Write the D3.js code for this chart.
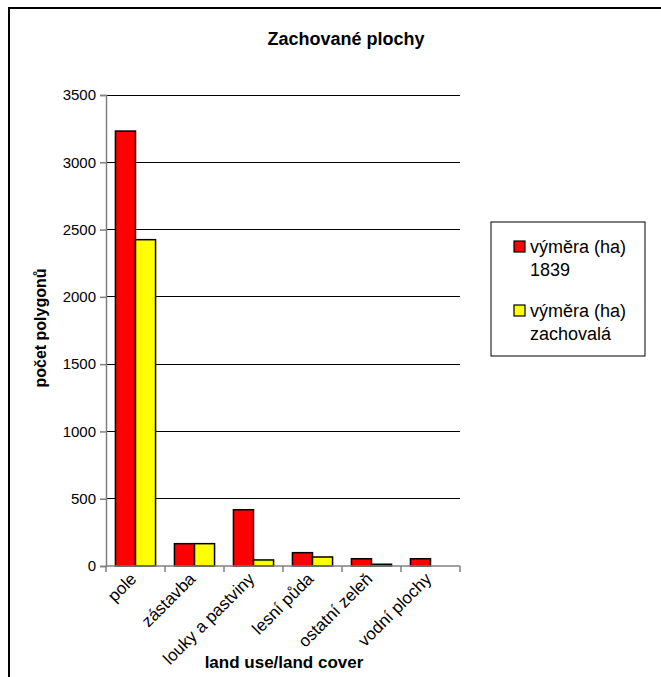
<!DOCTYPE html>
<html>
<head>
<meta charset="utf-8">
<title>Zachované plochy</title>
<script src="https://cdnjs.cloudflare.com/ajax/libs/d3/7.8.5/d3.min.js"></script>
<style>
  body { margin: 0; background: #fff; }
  svg { display: block; font-family: "Liberation Sans", Arial, sans-serif; }
</style>
</head>
<body>
<div id="chart"></div>
<script>
// data
var categories = ["pole", "zástavba", "louky a pastviny", "lesní půda", "ostatní zeleň", "vodní plochy"];
var seriesNames = ["výměra (ha) 1839", "výměra (ha) zachovalá"];
var values1839 = [3232, 166, 418, 99, 54, 54];
var valuesKept = [2425, 166, 45, 67, 13, 0];
var yTicks = [0, 500, 1000, 1500, 2000, 2500, 3000, 3500];
var colors = ["#ff0000", "#ffff00"];

var W = 661, H = 677;
var plot = {left: 106, right: 460, top: 95, bottom: 566};

var svg = d3.select("#chart").append("svg")
  .attr("width", W).attr("height", H);

// outer frame (only top and left visible)
svg.append("path")
  .attr("d", "M9,677 V8 H661")
  .attr("fill", "none").attr("stroke", "#000").attr("stroke-width", 2);

var x0 = d3.scaleBand()
  .domain(categories)
  .range([plot.left, plot.right])
  .paddingInner(0.32)
  .paddingOuter(0.16);

var x1 = d3.scaleBand()
  .domain([0, 1])
  .range([0, x0.bandwidth()]);

var y = d3.scaleLinear()
  .domain([0, 3500])
  .range([plot.bottom, plot.top]);

// gridlines
svg.append("g")
  .selectAll("line")
  .data(yTicks.slice(1))
  .enter().append("line")
  .attr("x1", plot.left).attr("x2", plot.right)
  .attr("y1", function(d) { return y(d); })
  .attr("y2", function(d) { return y(d); })
  .attr("stroke", "#000").attr("stroke-width", 1)
  .attr("shape-rendering", "crispEdges");

// bars
var rows = categories.map(function(c, i) { return {cat: c, vals: [values1839[i], valuesKept[i]]}; });
svg.append("g")
  .selectAll("g")
  .data(rows)
  .enter().append("g")
  .attr("transform", function(d) { return "translate(" + x0(d.cat) + ",0)"; })
  .selectAll("rect")
  .data(function(d) { return d.vals.map(function(v, k) { return {k: k, v: v}; }); })
  .enter().append("rect")
  .attr("x", function(d) { return x1(d.k); })
  .attr("y", function(d) { return y(d.v); })
  .attr("width", x1.bandwidth())
  .attr("height", function(d) { return plot.bottom - y(d.v); })
  .attr("fill", function(d) { return colors[d.k]; })
  .attr("stroke", "#000")
  .attr("stroke-width", 1.5);

// y axis
var yAxis = svg.append("g")
  .attr("transform", "translate(" + plot.left + ",0)")
  .call(d3.axisLeft(y).tickValues(yTicks).tickSize(6).tickPadding(4).tickFormat(d3.format("d")));
yAxis.selectAll("path, line").attr("stroke", "#808080").attr("stroke-width", 1.5);
yAxis.selectAll("text").attr("font-size", 15).attr("fill", "#000")
  .style("font-family", "Liberation Sans, Arial, sans-serif");

// x axis
var xTickPos = d3.range(categories.length + 1).map(function(i) { return plot.left + i * x0.step(); });
svg.append("line")
  .attr("x1", plot.left).attr("x2", plot.right)
  .attr("y1", plot.bottom).attr("y2", plot.bottom)
  .attr("stroke", "#808080").attr("stroke-width", 1.5);
svg.append("g").selectAll("line")
  .data(xTickPos)
  .enter().append("line")
  .attr("x1", function(d) { return d; }).attr("x2", function(d) { return d; })
  .attr("y1", plot.bottom).attr("y2", plot.bottom + 6)
  .attr("stroke", "#808080").attr("stroke-width", 1.5);

svg.append("g").selectAll("text")
  .data(categories)
  .enter().append("text")
  .attr("transform", function(d) {
    return "translate(" + (x0(d) + x0.bandwidth() / 2 + 2) + "," + (plot.bottom + 14) + ") rotate(-45)";
  })
  .attr("text-anchor", "end")
  .attr("font-size", 17)
  .text(function(d) { return d; });

// titles
svg.append("text")
  .attr("x", 346).attr("y", 45)
  .attr("text-anchor", "middle")
  .attr("font-size", 18).attr("font-weight", "bold")
  .text("Zachované plochy");

svg.append("text")
  .attr("transform", "translate(46,328) rotate(-90)")
  .attr("text-anchor", "middle")
  .attr("font-size", 16).attr("font-weight", "bold")
  .text("počet polygonů");

svg.append("text")
  .attr("x", 284).attr("y", 668)
  .attr("text-anchor", "middle")
  .attr("font-size", 17).attr("font-weight", "bold")
  .text("land use/land cover");

// legend
var legend = svg.append("g").attr("transform", "translate(491,222)");
legend.append("rect")
  .attr("width", 154).attr("height", 134)
  .attr("fill", "#fff").attr("stroke", "#000").attr("stroke-width", 1);
var legendLines = [["výměra (ha)", "1839"], ["výměra (ha)", "zachovalá"]];
seriesNames.forEach(function(name, i) {
  var g = legend.append("g").attr("transform", "translate(0," + (i * 64) + ")");
  g.append("rect")
    .attr("x", 23).attr("y", 19)
    .attr("width", 11).attr("height", 11)
    .attr("fill", colors[i]).attr("stroke", "#000").attr("stroke-width", 1.2);
  g.append("text")
    .attr("x", 39).attr("y", 31)
    .attr("font-size", 18)
    .text(legendLines[i][0]);
  g.append("text")
    .attr("x", 39).attr("y", 54)
    .attr("font-size", 18)
    .text(legendLines[i][1]);
});
</script>
</body>
</html>
